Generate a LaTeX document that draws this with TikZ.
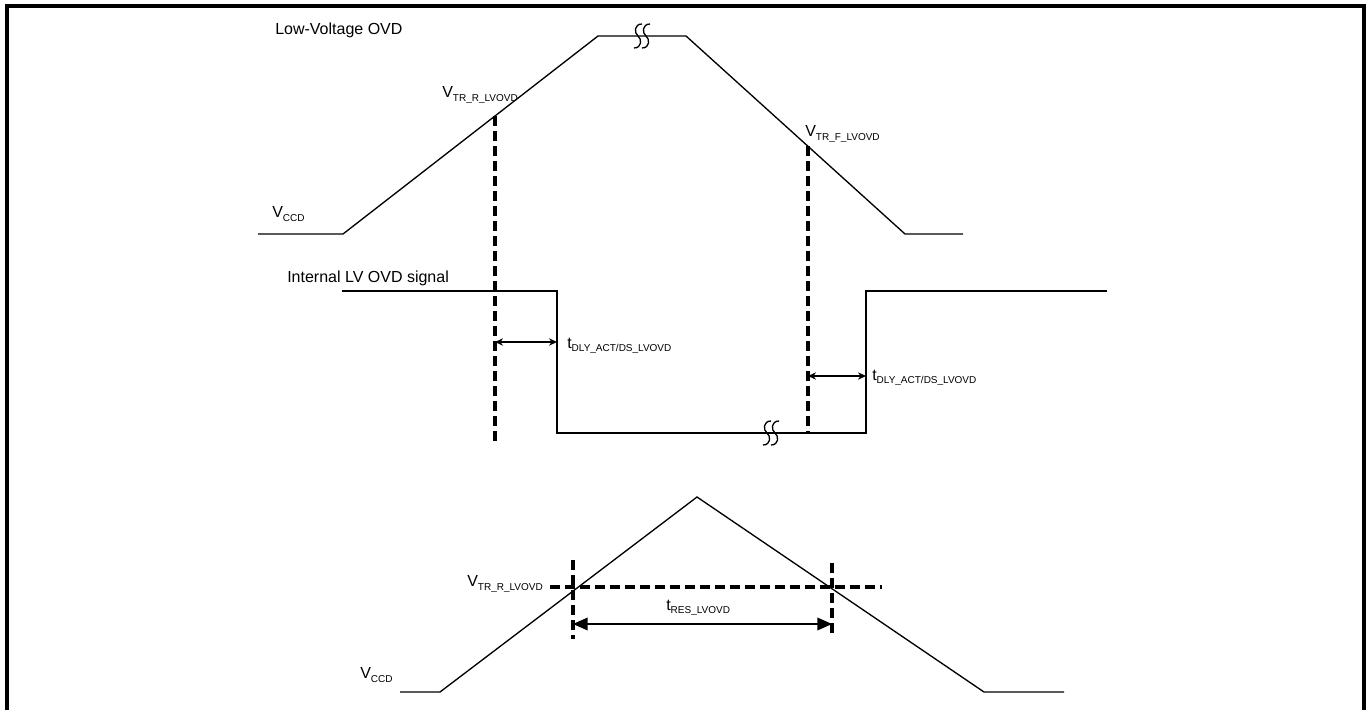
\documentclass[tikz,border=0pt]{standalone}
\usepackage{fontspec}
\setmainfont{Liberation Sans}
\usetikzlibrary{arrows.meta}
\newcommand{\lvsub}[1]{\raisebox{-0.4ex}{\fontsize{7.5}{8}\selectfont #1}}
\tikzset{
  wave/.style={line width=1pt, line join=miter},
  dashline/.style={line width=2.6pt, dash pattern=on 7.5pt off 3.75pt},
  frame/.style={line width=2.6pt},
  tag/.style={anchor=west, inner sep=0pt, font=\fontsize{12}{14}\selectfont},
  dly/.style={{Stealth[length=6pt,width=5.5pt]}-{Stealth[length=6pt,width=5.5pt]}, line width=1.1pt},
  res/.style={{Triangle[length=11pt,width=9.5pt]}-{Triangle[length=11pt,width=9.5pt]}, line width=1.1pt},
  brk/.style={line width=1pt}
}
\begin{document}
\begin{tikzpicture}[x=0.75pt, y=-0.75pt]
\useasboundingbox (0,0) rectangle (1369,710);
\draw[frame] (7,710) -- (7,6) -- (1364,6) -- (1364,710);

% supply ramp, top
\coordinate (a0) at (258,234);
\coordinate (a1) at (343,234);
\coordinate (a2) at (598,36);
\coordinate (a3) at (686,36);
\coordinate (a4) at (905,234);
\coordinate (a5) at (963,234);
\draw[wave] (a0) -- (a1) -- (a2) -- (a3) -- (a4) -- (a5);
\coordinate (ra) at (495,116);
\coordinate (rb) at (495,442);
\coordinate (fa) at (808,146);
\coordinate (fb) at (808,432);
\draw[dashline] (ra) -- (rb);
\draw[dashline] (fa) -- (fb);

% internal signal
\coordinate (b0) at (342,291);
\coordinate (b1) at (557,291);
\coordinate (b2) at (557,433);
\coordinate (b3) at (866,433);
\coordinate (b4) at (866,291);
\coordinate (b5) at (1107,291);
\draw[wave] (b0) -- (b1) -- (b2) -- (b3) -- (b4) -- (b5);
\coordinate (d1a) at (495,342);
\coordinate (d1b) at (557,342);
\coordinate (d2a) at (808,376);
\coordinate (d2b) at (866,376);
\draw[dly] (d1a) -- (d1b);
\draw[dly] (d2a) -- (d2b);

% break marks
\foreach \sx/\sy in {638/36,646/36,767/433,775/433}
  \draw[brk] (\sx+4,\sy-12) .. controls (\sx-4,\sy-12) and (\sx-4,\sy-3) .. (\sx,\sy)
    .. controls (\sx+4,\sy+3) and (\sx+4,\sy+12) .. (\sx-4,\sy+12);

% supply pulse, bottom
\coordinate (c0) at (400,692);
\coordinate (c1) at (440,692);
\coordinate (c2) at (697,497);
\coordinate (c3) at (984,692);
\coordinate (c4) at (1064,692);
\draw[wave] (c0) -- (c1) -- (c2) -- (c3) -- (c4);
\coordinate (h0) at (550,587);
\coordinate (h1) at (882,587);
\coordinate (v0) at (573,560);
\coordinate (v1) at (573,639);
\coordinate (v2) at (832,563);
\coordinate (v3) at (832,638);
\draw[dashline] (h0) -- (h1);
\draw[dashline] (v0) -- (v1);
\draw[dashline] (v2) -- (v3);
\coordinate (t0) at (573,624);
\coordinate (t1) at (832,624);
\draw[res] (t0) -- (t1);

% labels
\node[tag] (lvovd) at (275,30) {Low-Voltage OVD};
\node[tag] (vccd1) at (272,214) {V\lvsub{CCD}};
\node[tag] (vtrr1) at (442,95) {V\lvsub{TR\_R\_LVOVD}};
\node[tag] (vtrf) at (805,134) {V\lvsub{TR\_F\_LVOVD}};
\node[tag] (intsig) at (287,278) {Internal LV OVD signal};
\node[tag] (tdly1) at (567,346) {t\lvsub{DLY\_ACT/DS\_LVOVD}};
\node[tag] (tdly2) at (872,378) {t\lvsub{DLY\_ACT/DS\_LVOVD}};
\node[tag] (vtrr2) at (467,584) {V\lvsub{TR\_R\_LVOVD}};
\node[tag] (tres) at (666,608) {t\lvsub{RES\_LVOVD}};
\node[tag] (vccd2) at (360,675) {V\lvsub{CCD}};
\end{tikzpicture}
\end{document}
